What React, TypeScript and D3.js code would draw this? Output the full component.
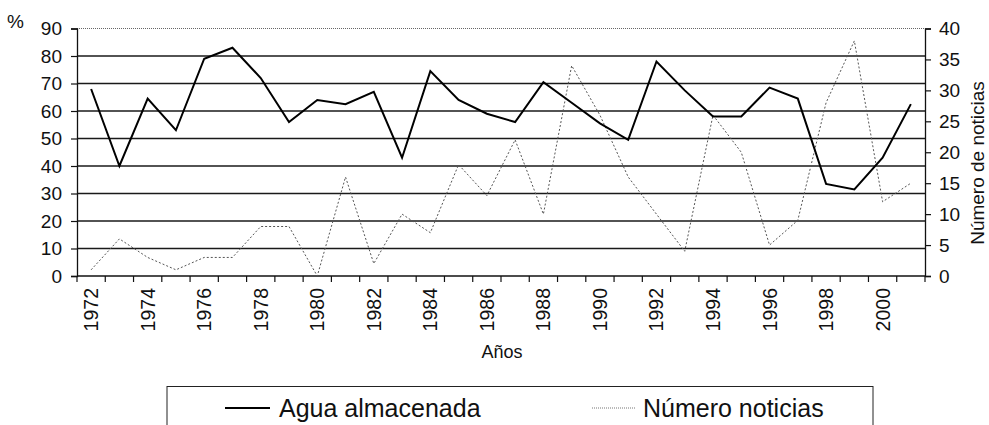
import React, { useEffect, useRef } from 'react';
import * as d3 from 'd3';

// Años 1972–2001
const years: number[] = d3.range(1972, 2002);

// Agua almacenada (%), eje izquierdo
const agua: number[] = [
  68, 40, 64.5, 53, 79, 83, 72, 56, 64, 62.5,
  67, 43, 74.5, 64, 59, 56, 70.5, 63, 55.5, 49.5,
  78, 67.5, 58, 58, 68.5, 64.5, 33.5, 31.5, 43, 62.5,
];

// Número de noticias, eje derecho
const noticias: number[] = [
  1, 6, 3, 1, 3, 3, 8, 8, 0, 16,
  2, 10, 7, 18, 13, 22, 10, 34, 26, 16,
  10, 4, 26, 20, 5, 9, 28, 38, 12, 15,
];

const leftTicks: number[] = [0, 10, 20, 30, 40, 50, 60, 70, 80, 90];
const rightTicks: number[] = [0, 5, 10, 15, 20, 25, 30, 35, 40];
const yearLabels: number[] = years.filter((y) => (y - 1972) % 2 === 0);

const seriesNames = ['Agua almacenada', 'Número noticias'];

const W = 989;
const H = 425;
const FONT = 'Liberation Sans, Arial, sans-serif';

const App: React.FC = () => {
  const svgRef = useRef<SVGSVGElement>(null);

  useEffect(() => {
    if (!svgRef.current) return;
    const svg = d3.select(svgRef.current);
    svg.selectAll('*').remove();

    const plot = { left: 77, right: 925, top: 28.5, bottom: 276 };

    const x = d3.scaleBand<number>()
      .domain(years)
      .range([plot.left, plot.right])
      .padding(0);
    const cx = (y: number) => (x(y) as number) + x.bandwidth() / 2;

    const yL = d3.scaleLinear().domain([0, 90]).range([plot.bottom, plot.top]);
    const yR = d3.scaleLinear().domain([0, 40]).range([plot.bottom, plot.top]);

    const g = svg.append('g').attr('font-family', FONT).attr('fill', '#111');

    // gridlines
    g.append('g')
      .selectAll('line')
      .data(leftTicks.filter((t) => t > 0 && t < 90))
      .enter()
      .append('line')
      .attr('x1', plot.left)
      .attr('x2', plot.right)
      .attr('y1', (d) => yL(d))
      .attr('y2', (d) => yL(d))
      .attr('stroke', '#1a1a1a')
      .attr('stroke-width', 1.3);

    // top border (dotted)
    g.append('line')
      .attr('x1', plot.left)
      .attr('x2', plot.right)
      .attr('y1', yL(90))
      .attr('y2', yL(90))
      .attr('stroke', '#666')
      .attr('stroke-width', 1)
      .attr('stroke-dasharray', '1,1');

    // left axis
    const left = g.append('g')
      .attr('transform', `translate(${plot.left},0)`)
      .call(d3.axisLeft(yL).tickValues(leftTicks).tickSize(6).tickPadding(9));
    left.attr('font-size', 19).attr('font-family', FONT);
    left.select('.domain').attr('stroke', '#111').attr('stroke-width', 1.3);
    left.selectAll('.tick line').attr('stroke', '#111').attr('stroke-width', 1.2);
    left.selectAll('.tick text').attr('fill', '#111');

    // right axis
    const right = g.append('g')
      .attr('transform', `translate(${plot.right},0)`)
      .call(d3.axisRight(yR).tickValues(rightTicks).tickSize(6).tickPadding(8));
    right.attr('font-size', 19).attr('font-family', FONT);
    right.select('.domain').attr('stroke', '#111').attr('stroke-width', 1.3);
    right.selectAll('.tick line').attr('stroke', '#111').attr('stroke-width', 1.2);
    right.selectAll('.tick text').attr('fill', '#111');

    // bottom axis: line + ticks at category boundaries
    g.append('line')
      .attr('x1', plot.left)
      .attr('x2', plot.right)
      .attr('y1', plot.bottom)
      .attr('y2', plot.bottom)
      .attr('stroke', '#111')
      .attr('stroke-width', 1.3);
    g.append('g')
      .selectAll('line')
      .data([...years, years[years.length - 1] + 1])
      .enter()
      .append('line')
      .attr('x1', (d, i) => plot.left + i * x.bandwidth())
      .attr('x2', (d, i) => plot.left + i * x.bandwidth())
      .attr('y1', plot.bottom)
      .attr('y2', plot.bottom + 6)
      .attr('stroke', '#111')
      .attr('stroke-width', 1.2);

    g.append('g')
      .selectAll('text')
      .data(yearLabels)
      .enter()
      .append('text')
      .attr('transform', (d) => `translate(${cx(d) + 7},${plot.bottom + 12}) rotate(-90)`)
      .attr('text-anchor', 'end')
      .attr('font-size', 19.5)
      .text((d) => String(d));

    // axis titles
    g.append('text')
      .attr('x', 7)
      .attr('y', 28)
      .attr('font-size', 19)
      .text('%');

    g.append('text')
      .attr('x', 502)
      .attr('y', 358)
      .attr('text-anchor', 'middle')
      .attr('font-size', 18)
      .text('Años');

    g.append('text')
      .attr('transform', `translate(984,163) rotate(-90)`)
      .attr('text-anchor', 'middle')
      .attr('font-size', 19)
      .text('Número de noticias');

    // series
    const lineL = d3.line<number>()
      .x((_, i) => cx(years[i]))
      .y((d) => yL(d));
    const lineR = d3.line<number>()
      .x((_, i) => cx(years[i]))
      .y((d) => yR(d));

    g.append('path')
      .datum(noticias)
      .attr('fill', 'none')
      .attr('stroke', '#555')
      .attr('stroke-width', 1)
      .attr('stroke-dasharray', '2,2')
      .attr('d', lineR);

    g.append('path')
      .datum(agua)
      .attr('fill', 'none')
      .attr('stroke', '#000')
      .attr('stroke-width', 2)
      .attr('stroke-linejoin', 'miter')
      .attr('d', lineL);

    // legend
    const lg = g.append('g');
    lg.append('rect')
      .attr('x', 167)
      .attr('y', 386.5)
      .attr('width', 706)
      .attr('height', 60)
      .attr('fill', 'none')
      .attr('stroke', '#222')
      .attr('stroke-width', 1);

    const items = [
      { x1: 225, x2: 270, tx: 279, stroke: '#000', width: 2, dash: null as string | null },
      { x1: 592, x2: 636, tx: 643, stroke: '#777', width: 1, dash: '1,1' },
    ];
    items.forEach((it, i) => {
      lg.append('line')
        .attr('x1', it.x1)
        .attr('x2', it.x2)
        .attr('y1', 408)
        .attr('y2', 408)
        .attr('stroke', it.stroke)
        .attr('stroke-width', it.width)
        .attr('stroke-dasharray', it.dash);
      lg.append('text')
        .attr('x', it.tx)
        .attr('y', 417)
        .attr('font-size', 25)
        .text(seriesNames[i]);
    });
  }, []);

  return (
    <svg
      ref={svgRef}
      width={W}
      height={H}
      style={{ position: 'absolute', left: 0, top: 0, background: '#fff' }}
    />
  );
};

export default App;
